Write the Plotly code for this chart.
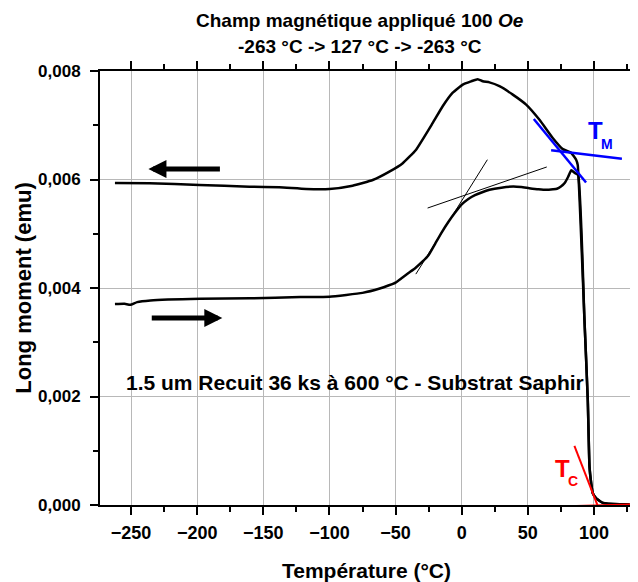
import plotly.graph_objects as go

# ---- data ----
heat_T = [-262.2, -255, -250.5, -245.4, -235.4, -197.6, -160, -122, -100, -75, -62, -55, -50,
          -45, -40, -35, -30, -25, -20, -15, -10, -5, 0, 5, 10, 15, 21, 30, 39, 45, 51, 58,
          64, 69, 72, 75, 78, 80.5, 82.8, 85.5, 88.0, 92.8, 95.3, 96.6, 97.9, 99.1, 101.7,
          106.7, 119.3, 127]
heat_M = [0.003703, 0.003708, 0.00369, 0.00374, 0.00377, 0.0038, 0.00381, 0.003835, 0.00384,
          0.00391, 0.00399, 0.00405, 0.0041, 0.00419, 0.00428, 0.00437, 0.00448, 0.00461,
          0.00482, 0.00503, 0.00522, 0.00539, 0.00554, 0.00564, 0.00571, 0.00576, 0.00581,
          0.00585, 0.00587, 0.00586, 0.00584, 0.00582, 0.00581, 0.00582, 0.00583, 0.00587,
          0.00594, 0.00605, 0.00617, 0.00612, 0.00608, 0.00341, 0.00194, 0.00071, 0.0004,
          0.000215, 0.000124, 0.00004, 0.000013, 0.00001]

cool_T = [127, 119.3, 106.7, 101.7, 99.1, 97.9, 96.6, 95.3, 92.8, 87.7, 86.5, 82.8, 76.4, 68.8,
          58.8, 48.7, 38.6, 28.5, 20.95, 15.9, 12.1, 7.1, 0.8, -6.8, -14.4, -21.9, -34.5,
          -44.6, -54.7, -67.3, -82.5, -100, -117.7, -138, -160.6, -198.4, -236, -262.2]
cool_M = [0.00001, 0.000013, 0.00004, 0.000124, 0.000215, 0.0004, 0.00071, 0.00194, 0.00341,
          0.00627, 0.006365, 0.00649, 0.00656, 0.006766, 0.0071, 0.00738, 0.007565, 0.00772,
          0.00779, 0.00781, 0.00785, 0.00781, 0.00775, 0.0076, 0.00735, 0.007042, 0.00655,
          0.0063, 0.006144, 0.00599, 0.005886, 0.005825, 0.005825, 0.005856, 0.005867,
          0.0059, 0.00593, 0.005935]

# construction (tangent) lines: [x0, x1], [y0, y1]
tan1_T, tan1_M = [-34.7, 19.4], [0.004256, 0.006365]
tan2_T, tan2_M = [-25.8, 64.3], [0.005474, 0.006231]
tm1_T, tm1_M = [54.5, 94.0], [0.007116, 0.005946]
tm2_T, tm2_M = [67.6, 121.1], [0.006538, 0.006384]
tc1_T, tc1_M = [85.2, 106.5], [0.001089, -0.000246]
tc2_T, tc2_M = [83.9, 132.6], [-0.00002, 0.0000125]

x_ticks = [-250, -200, -150, -100, -50, 0, 50, 100]
y_ticks = [0.0, 0.002, 0.004, 0.006, 0.008]

title_lines = ["Champ magnétique appliqué 100 <i>Oe</i>", "-263 °C -> 127 °C -> -263 °C"]
sample_text = "1.5 um Recuit 36 ks à 600 °C - Substrat Saphir"

FONT = "Liberation Sans, Arial, sans-serif"

fig = go.Figure()

def line(x, y, color, width, smooth=False):
    ln = dict(color=color, width=width)
    if smooth:
        ln.update(shape="spline", smoothing=0.4)
    fig.add_trace(go.Scatter(x=x, y=y, mode="lines", line=ln,
                             showlegend=False, hoverinfo="skip"))

line(heat_T, heat_M, "black", 2.5, smooth=True)
line(cool_T, cool_M, "black", 2.5, smooth=True)
line(tan1_T, tan1_M, "black", 1)
line(tan2_T, tan2_M, "black", 1)
line(tm1_T, tm1_M, "#0000ff", 2.5)
line(tm2_T, tm2_M, "#0000ff", 2.5)
line(tc1_T, tc1_M, "#ff0000", 2)
line(tc2_T, tc2_M, "#ff0000", 2)

# direction arrows
fig.add_annotation(x=-236.9, y=0.006193, ax=-181.7, ay=0.006193, xref="x", yref="y",
                   axref="x", ayref="y", text="", showarrow=True, arrowhead=2,
                   arrowsize=0.72, arrowwidth=5, arrowcolor="black")
fig.add_annotation(x=-181.0, y=0.003447, ax=-235.5, ay=0.003447, xref="x", yref="y",
                   axref="x", ayref="y", text="", showarrow=True, arrowhead=2,
                   arrowsize=0.72, arrowwidth=5, arrowcolor="black")

fig.add_annotation(x=-80.8, y=0.002249, xref="x", yref="y", showarrow=False,
                   text=sample_text,
                   font=dict(family=FONT, size=21, color="black", weight="bold"))

for txt, x, y, size, col in [("T", 101.2, 0.006898, 24, "#0000ff"), ("M", 109.6, 0.006660, 14, "#0000ff"),
                             ("T", 75.9, 0.000682, 24, "#ff0000"), ("C", 83.8, 0.000445, 14, "#ff0000")]:
    fig.add_annotation(x=x, y=y, xref="x", yref="y", showarrow=False, text=txt,
                       font=dict(family=FONT, size=size, color=col, weight="bold"))

# title lines (paper coords above the plot)
for txt, yp in zip(title_lines, [1.1175, 1.0576]):
    fig.add_annotation(x=0.4878, y=yp, xref="paper", yref="paper", showarrow=False,
                       text=txt, xanchor="center", yanchor="middle",
                       font=dict(family=FONT, size=19, color="black", weight="bold"))

# the page body has an 8px margin, so the figure is sized/offset to land the plot
# area at x 100..633, y 71..505 in the window
fig.update_layout(
    width=630, height=574, autosize=False,
    margin=dict(l=92, r=5, t=63, b=77),
    paper_bgcolor="white", plot_bgcolor="white",
    separators=",.",
    font=dict(family=FONT, color="black"),
    xaxis=dict(range=[-273.5, 129.5], tickvals=x_ticks, ticks="outside", ticklen=8, tickwidth=1.5,
               tickcolor="black", showline=True, linecolor="black", linewidth=2, mirror="ticks",
               showgrid=True, gridcolor="#b8b8b8", gridwidth=1, zeroline=False,
               layer="below traces", automargin=False, ticklabelstandoff=2,
               minor=dict(dtick=25, tick0=0, ticks="outside", ticklen=5, tickwidth=1.5,
                          tickcolor="black", showgrid=False),
               tickfont=dict(family=FONT, size=18, color="black", weight="bold"),
               title=dict(text="Température (°C)", standoff=24,
                          font=dict(family=FONT, size=21, color="black", weight="bold"))),
    yaxis=dict(range=[0, 0.008], tickvals=y_ticks, tickformat=".3f", ticks="outside", ticklen=8,
               tickwidth=1.5, tickcolor="black", showline=True, linecolor="black", linewidth=2,
               mirror="ticks", showgrid=True, gridcolor="#b8b8b8", gridwidth=1, zeroline=False,
               layer="below traces", automargin=False, ticklabelstandoff=6,
               minor=dict(dtick=0.001, tick0=0, ticks="outside", ticklen=5, tickwidth=1.5,
                          tickcolor="black", showgrid=False),
               tickfont=dict(family=FONT, size=17, color="black", weight="bold"),
               title=dict(text="Long moment (emu)", standoff=0,
                          font=dict(family=FONT, size=22, color="black", weight="bold"))),
)

fig.write_html("out.html")
